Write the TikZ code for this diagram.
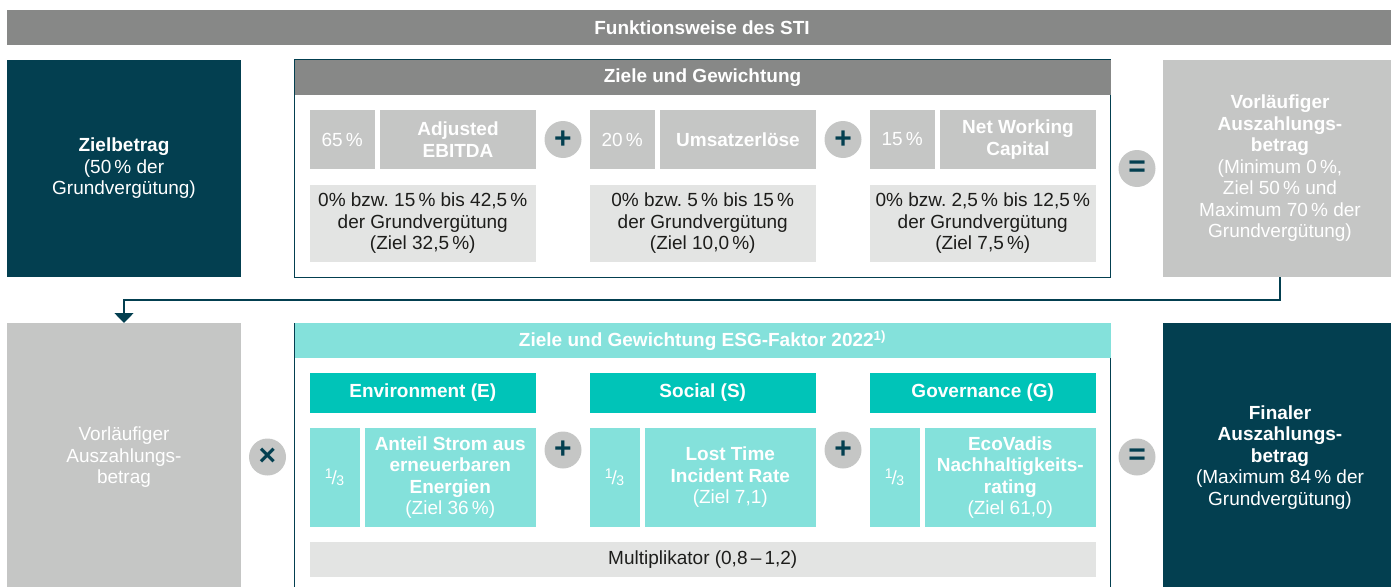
\documentclass[tikz,border=0pt]{standalone}
\usepackage{fontspec}
\setmainfont{Liberation Sans}
\usetikzlibrary{arrows.meta}

\definecolor{stidark}{HTML}{033F50}
\definecolor{stigray}{HTML}{878887}
\definecolor{stilight}{HTML}{C5C6C5}
\definecolor{stipale}{HTML}{E3E4E3}
\definecolor{stitext}{HTML}{1D1D1B}
\definecolor{esgteal}{HTML}{00C4B8}
\definecolor{esglight}{HTML}{84E1DB}

\newcommand{\sti}{\fontsize{19}{21.5}\selectfont}
\newcommand{\drittel}{\raisebox{0.55ex}{\fontsize{14}{14}\selectfont 1}\kern-1pt/\kern-0.5pt\raisebox{-0.15ex}{\fontsize{14}{14}\selectfont 3}}

\begin{document}
\begin{tikzpicture}
  [x=1pt,y=-1pt,
   titlebar/.style={rectangle,fill=stigray,text=white,font=\sti\bfseries,
               outer sep=0,minimum width=1390pt,minimum height=35pt},
   darkbox/.style={rectangle,fill=stidark,text=white,font=\sti,align=center,
                outer sep=0,minimum width=234pt},
   interimbox/.style={rectangle,fill=stilight,text=white,font=\sti,align=center,
                   outer sep=0,minimum width=234pt},
   framebox/.style={rectangle,draw=stidark,line width=1pt,
                 outer sep=0,minimum width=816pt},
   headbox/.style={rectangle,text=white,font=\sti\bfseries,
                outer sep=0,minimum width=816pt,minimum height=35pt},
   weightbox/.style={rectangle,fill=stilight,text=white,font=\sti,
                  outer sep=0,minimum width=65.5pt,minimum height=59pt},
   targetbox/.style={rectangle,fill=stilight,text=white,font=\sti\bfseries,align=center,
                  outer sep=0,minimum width=156pt,minimum height=59pt},
   rangebox/.style={rectangle,fill=stipale,text=stitext,font=\sti,align=center,
                 outer sep=0,minimum width=226.5pt,minimum height=77pt},
   pillarbox/.style={rectangle,fill=esgteal,text=white,font=\sti\bfseries,
                  outer sep=0,minimum width=226.5pt,minimum height=40pt},
   thirdbox/.style={rectangle,fill=esglight,text=white,font=\sti,
                 outer sep=0,minimum width=50pt,minimum height=99pt},
   kpibox/.style={rectangle,fill=esglight,text=white,font=\sti,align=center,
               outer sep=0,minimum width=171.5pt,minimum height=99pt},
   opcircle/.style={circle,fill=stilight,text=stidark,font=\fontsize{30}{30}\selectfont\bfseries,
              inner sep=0,outer sep=0,minimum size=37pt},
   flowline/.style={draw=stidark,line width=1.6pt,-{Triangle[width=19pt,length=10pt]}}]
  \path[use as bounding box,clip] (0,0) rectangle (1391,586);
  \node[titlebar] (title) at (702,27.5) {Funktionsweise des STI};
  % upper row: target amount and STI targets
  \node[darkbox,minimum height=217pt] (zielbetrag) at (124,168.5)
    {\textbf{Zielbetrag}\\(50\,\% der\\Grundvergütung)};
  \node[framebox,minimum height=217pt] (kpiframe) at (702.5,168.5) {};
  \node[headbox,fill=stigray] (kpihead) at (702.5,77.5) {Ziele und Gewichtung};
  \node[weightbox] (wEbitda) at (342.25,139.5) {65\,\%};
  \node[targetbox] (ebitda) at (458,139.5) {Adjusted\\EBITDA};
  \node[opcircle] (plusA) at (563,139.5) {+};
  \node[weightbox] (wUmsatz) at (622.25,139.5) {20\,\%};
  \node[targetbox] (umsatz) at (738,139.5) {Umsatzerlöse};
  \node[opcircle] (plusB) at (843,139.5) {+};
  \node[weightbox] (wNwc) at (902.25,139.5) {15\,\%};
  \node[targetbox] (nwc) at (1018,139.5) {Net Working\\Capital};
  \node[rangebox] (rangeEbitda) at (422.75,223.5)
    {0\% bzw.\ 15\,\% bis 42,5\,\%\\der Grundvergütung\\(Ziel 32,5\,\%)};
  \node[rangebox] (rangeUmsatz) at (702.75,223.5)
    {0\% bzw.\ 5\,\% bis 15\,\%\\der Grundvergütung\\(Ziel 10,0\,\%)};
  \node[rangebox] (rangeNwc) at (982.75,223.5)
    {0\% bzw.\ 2,5\,\% bis 12,5\,\%\\der Grundvergütung\\(Ziel 7,5\,\%)};
  \node[opcircle] (eqA) at (1137,168.5) {=};
  \node[interimbox,minimum height=217pt] (vorlA) at (1280,168.5)
    {\textbf{Vorläufiger}\\\textbf{Auszahlungs-}\\\textbf{betrag}\\(Minimum 0\,\%,\\Ziel 50\,\% und\\Maximum 70\,\% der\\Grundvergütung)};
  % lower row: ESG factor
  \node[interimbox,minimum height=269pt] (vorlB) at (124,457.5)
    {Vorläufiger\\Auszahlungs-\\betrag};
  \node[opcircle] (times) at (267.5,457) {×};
  \node[framebox,minimum height=269pt] (esgframe) at (702.5,457.5) {};
  \node[headbox,fill=esglight] (esghead) at (702.5,340.5)
    {Ziele und Gewichtung ESG-Faktor 2022\textsuperscript{1)}};
  \node[pillarbox] (env) at (422.75,393) {Environment (E)};
  \node[pillarbox] (soc) at (702.75,393) {Social (S)};
  \node[pillarbox] (gov) at (982.75,393) {Governance (G)};
  \node[thirdbox] (thirdE) at (334.5,477.5) {\drittel};
  \node[kpibox] (strom) at (450.25,477.5)
    {\textbf{Anteil Strom aus}\\\textbf{erneuerbaren}\\\textbf{Energien}\\(Ziel 36\,\%)};
  \node[opcircle] (plusC) at (563,450) {+};
  \node[thirdbox] (thirdS) at (614.5,477.5) {\drittel};
  \node[kpibox] (ltir) at (730.25,477.5)
    {\textbf{Lost Time}\\\textbf{Incident Rate}\\(Ziel 7,1)};
  \node[opcircle] (plusD) at (843,450) {+};
  \node[thirdbox] (thirdG) at (894.5,477.5) {\drittel};
  \node[kpibox] (ecovadis) at (1010.25,477.5)
    {\textbf{EcoVadis}\\\textbf{Nachhaltigkeits-}\\\textbf{rating}\\(Ziel 61,0)};
  \node[rangebox,minimum width=786.5pt,minimum height=35pt] (multi) at (702.75,559.5)
    {Multiplikator (0,8\,–\,1,2)};
  \node[opcircle] (eqB) at (1137,457) {=};
  \node[darkbox,minimum height=269pt] (finaler) at (1280,457.5)
    {\textbf{Finaler}\\\textbf{Auszahlungs-}\\\textbf{betrag}\\(Maximum 84\,\% der\\Grundvergütung)};
  \draw[flowline] (vorlA.south) -- ++(0,23) -| (vorlB.north);
\end{tikzpicture}
\end{document}
